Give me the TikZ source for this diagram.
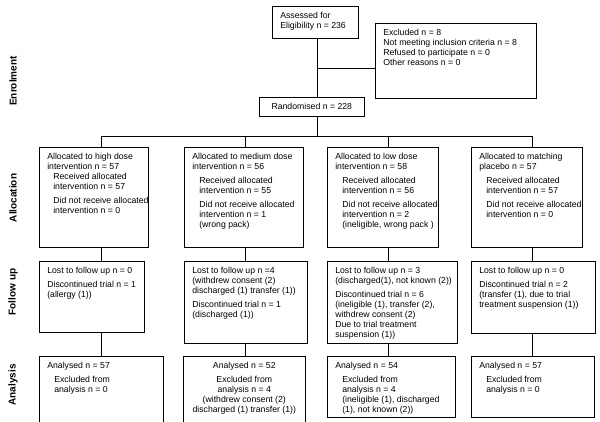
\documentclass[tikz,border=0pt]{standalone}
\usepackage{fontspec}
\setmainfont{Liberation Sans}
\newcommand{\inset}{\hspace*{7pt}}
\begin{document}
\begin{tikzpicture}[x=1pt,y=-1pt,line width=0.6pt]
\tikzstyle{box}=[draw,rectangle,anchor=north west,inner sep=0pt]
\tikzstyle{txt}=[anchor=north west,align=left,inner xsep=8pt,inner ysep=6pt,font=\fontsize{8.7}{10}\selectfont]
\tikzstyle{ctxt}=[anchor=north,align=center,inner ysep=6pt,font=\fontsize{8.7}{10}\selectfont]
\tikzstyle{stage}=[rotate=90,font=\fontsize{10}{11}\selectfont\bfseries]
\useasboundingbox (0,0) rectangle (600,422);

% stage names
\node[stage] (enrol) at (13,81) {Enrolment};
\node[stage] (alloc) at (13,198) {Allocation};
\node[stage] (follow) at (13,292) {Follow up};
\node[stage] (anal) at (13,385) {Analysis};

% enrolment
\draw (272,6) node[box,minimum width=86pt,minimum height=32pt,
  label={[txt]north west:{Assessed for\\Eligibility n = 236}}] (assess) {};
\draw (375,23) node[box,minimum width=161pt,minimum height=75pt,
  label={[txt]north west:{Excluded n = 8\\Not meeting inclusion criteria n = 8\\Refused to participate n = 0\\Other reasons n = 0}}] (excl) {};
\draw (259,97) node[box,minimum width=105pt,minimum height=19pt,
  font=\fontsize{8.7}{10}\selectfont] (rand) {Randomised n = 228};

% allocation
\draw (39,147) node[box,minimum width=109pt,minimum height=100pt,
  label={[txt]north west:{Allocated to high dose\\intervention n = 57\\\hspace*{6pt}Received allocated\\\hspace*{6pt}intervention n = 57\\[4pt]\hspace*{6pt}Did not receive allocated\\\hspace*{6pt}intervention n = 0}}] (a1) {};
\draw (184,147) node[box,minimum width=119pt,minimum height=100pt,
  label={[txt]north west:{Allocated to medium dose\\intervention n = 56\\[4pt]\inset Received allocated\\\inset intervention n = 55\\[4pt]\inset Did not receive allocated\\\inset intervention n = 1\\\inset (wrong pack)}}] (a2) {};
\draw (327,147) node[box,minimum width=111pt,minimum height=100pt,
  label={[txt]north west:{Allocated to low dose\\intervention n = 58\\[4pt]\inset Received allocated\\\inset intervention n = 56\\[4pt]\inset Did not receive allocated\\\inset intervention n = 2\\\inset (ineligible, wrong pack )}}] (a3) {};
\draw (471,147) node[box,minimum width=111pt,minimum height=100pt,
  label={[txt]north west:{Allocated to matching\\placebo n = 57\\[4pt]\inset Received allocated\\\inset intervention n = 57\\[4pt]\inset Did not receive allocated\\\inset intervention n = 0}}] (a4) {};

% follow up
\draw (39,261) node[box,minimum width=105pt,minimum height=71pt,
  label={[txt]north west:{Lost to follow up n = 0\\[4pt]Discontinued trial n = 1\\(allergy (1))}}] (f1) {};
\draw (184,261) node[box,minimum width=123pt,minimum height=82pt,
  label={[txt]north west:{Lost to follow up n =4\\(withdrew consent (2)\\discharged (1) transfer (1))\\[4pt]Discontinued trial n = 1\\(discharged (1))}}] (f2) {};
\draw (327,261) node[box,minimum width=130pt,minimum height=82pt,
  label={[txt]north west:{Lost to follow up n = 3\\(discharged(1), not known (2))\\[4pt]Discontinued trial n = 6\\(ineligible (1), transfer (2),\\withdrew consent (2)\\Due to trial treatment\\suspension (1))}}] (f3) {};
\draw (471,261) node[box,minimum width=124pt,minimum height=72pt,
  label={[txt]north west:{Lost to follow up n = 0\\[4pt]Discontinued trial n = 2\\(transfer (1), due to trial\\treatment suspension (1))}}] (f4) {};

% analysis
\draw (39,356) node[box,minimum width=124pt,minimum height=66pt,
  label={[txt]north west:{Analysed n = 57\\[4pt]\inset Excluded from\\\inset analysis n = 0}}] (n1) {};
\draw (183,356) node[box,minimum width=122pt,minimum height=66pt,
  label={[ctxt]north:{Analysed n = 52\\[4pt]Excluded from\\analysis n = 4\\(withdrew consent (2)\\discharged (1) transfer (1))}}] (n2) {};
\draw (327,356) node[box,minimum width=128pt,minimum height=61pt,
  label={[txt]north west:{Analysed n = 54\\[4pt]\inset Excluded from\\\inset analysis n = 4\\\inset (ineligible (1), discharged\\\inset (1), not known (2))}}] (n3) {};
\draw (471,356) node[box,minimum width=123pt,minimum height=61pt,
  label={[txt]north west:{Analysed n = 57\\[4pt]\inset Excluded from\\\inset analysis n = 0}}] (n4) {};

% connectors
\coordinate (hub) at (317,136);
\coordinate (split) at (317,68);
\coordinate (c1) at (101,136);
\coordinate (c2) at (245,136);
\coordinate (c3) at (388,136);
\coordinate (c4) at (532,136);
\draw (assess.south -| hub) -- (rand.north -| hub);
\draw (split) -- (split -| excl.west);
\draw (rand.south -| hub) -- (hub);
\draw (c1) -- (c4);
\foreach \i in {1,...,4} {
  \draw (c\i) -- (a\i.north -| c\i);
  \draw (a\i.south -| c\i) -- (f\i.north -| c\i);
  \draw (f\i.south -| c\i) -- (n\i.north -| c\i);
}
\end{tikzpicture}
\end{document}
